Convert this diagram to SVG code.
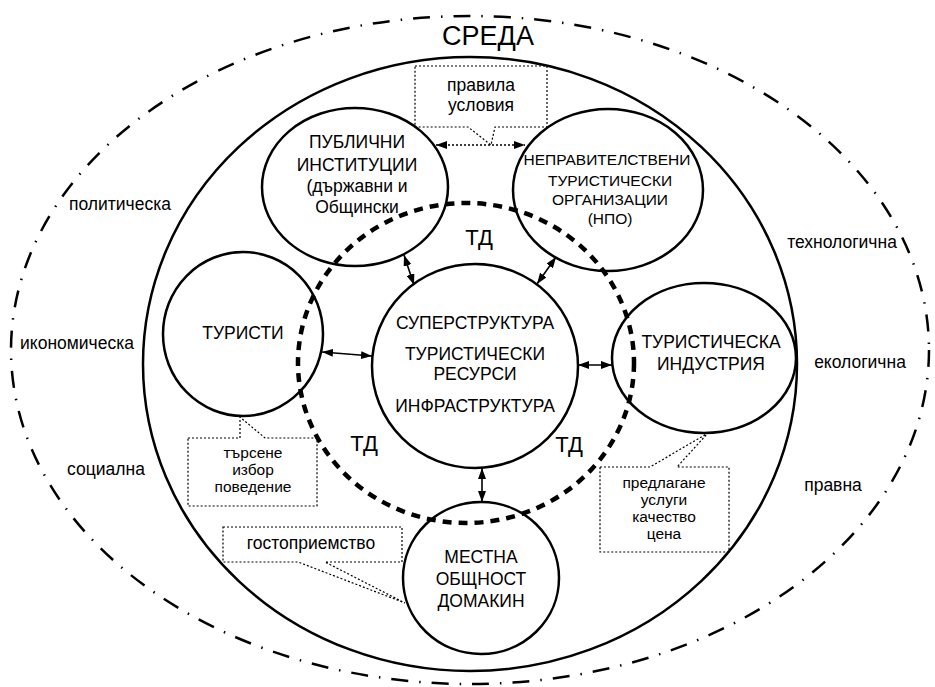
<svg xmlns="http://www.w3.org/2000/svg" width="935" height="687" viewBox="0 0 935 687">
<style>
text{font-family:"Liberation Sans",Arial,sans-serif;fill:#000;text-anchor:middle}
.t{font-size:17.5px}
.s{font-size:15.5px}
.n{font-size:15.5px}
.td{font-size:22px}
.node{fill:none;stroke:#000;stroke-width:2.5}
.env{fill:none;stroke:#000;stroke-width:2.5;stroke-dasharray:17 11 1.5 11}
.ring{fill:none;stroke:#000;stroke-width:4.5;stroke-dasharray:9 7}
.call{fill:none;stroke:#000;stroke-width:1.2;stroke-dasharray:2 2}
.arr{stroke:#000;stroke-width:1.6;fill:none;marker-start:url(#ah);marker-end:url(#ah)}
.arrd{stroke:#000;stroke-width:1.4;fill:none;stroke-dasharray:2 2;marker-start:url(#ah);marker-end:url(#ah)}
</style>
<defs>
<marker id="ah" viewBox="0 0 11 8" refX="11" refY="4" markerWidth="11" markerHeight="8" markerUnits="userSpaceOnUse" orient="auto-start-reverse">
<path d="M0,0 L11,4 L0,8 z" fill="#000"/>
</marker>
</defs>
<rect width="935" height="687" fill="#fff"/>

<g id="environment">
<ellipse class="env" cx="470" cy="350" rx="459" ry="334"/>
<text x="488" y="45" style="font-size:27px">СРЕДА</text>
<text class="t" x="120" y="210">политическа</text>
<text class="t" x="77" y="349">икономическа</text>
<text class="t" x="106" y="475">социална</text>
<text class="t" x="842" y="248">технологична</text>
<text class="t" x="860" y="368">екологична</text>
<text class="t" x="833" y="491">правна</text>
</g>

<g id="destination">
<ellipse class="node" cx="470" cy="364" rx="327" ry="307"/>
</g>

<g id="td-ring">
<ellipse class="ring" cx="466" cy="363" rx="168" ry="160"/>
<text class="td" x="479" y="245">ТД</text>
<text class="td" x="364" y="451">ТД</text>
<text class="td" x="569" y="452">ТД</text>
</g>

<g id="core">
<ellipse class="node" cx="475" cy="366" rx="103" ry="102"/>
<text class="t" x="475" y="329">СУПЕРСТРУКТУРА</text>
<text class="t" x="475" y="360">ТУРИСТИЧЕСКИ</text>
<text class="t" x="475" y="380">РЕСУРСИ</text>
<text class="t" x="475" y="412">ИНФРАСТРУКТУРА</text>
</g>

<g id="public-institutions">
<ellipse class="node" cx="355" cy="187" rx="93" ry="79"/>
<text class="t" x="357" y="148">ПУБЛИЧНИ</text>
<text class="t" x="357" y="171">ИНСТИТУЦИИ</text>
<text class="t" x="357" y="192">(държавни и</text>
<text class="t" x="357" y="213">Общински</text>
</g>

<g id="ngo">
<ellipse class="node" cx="608" cy="190" rx="95" ry="81"/>
<text class="n" x="607" y="165">НЕПРАВИТЕЛСТВЕНИ</text>
<text class="n" x="610" y="186">ТУРИСТИЧЕСКИ</text>
<text class="n" x="610" y="205">ОРГАНИЗАЦИИ</text>
<text class="n" x="610" y="224">(НПО)</text>
</g>

<g id="tourists">
<ellipse class="node" cx="243" cy="334" rx="80" ry="82"/>
<text class="t" x="243" y="339">ТУРИСТИ</text>
</g>

<g id="industry">
<ellipse class="node" cx="704" cy="358" rx="92" ry="75"/>
<text class="t" x="711" y="348">ТУРИСТИЧЕСКА</text>
<text class="t" x="711" y="370">ИНДУСТРИЯ</text>
</g>

<g id="community">
<ellipse class="node" cx="481" cy="578" rx="78" ry="76"/>
<text class="t" x="481" y="563">МЕСТНА</text>
<text class="t" x="481" y="585">ОБЩНОСТ</text>
<text class="t" x="481" y="607">ДОМАКИН</text>
</g>

<g id="callout-rules">
<path class="call" d="M415,66 H547 V127 H495 L491,145 L468,127 H415 Z"/>
<text class="t" x="481" y="91">правила</text>
<text class="t" x="481" y="111">условия</text>
</g>

<g id="callout-demand">
<path class="call" d="M188,438 H240 V417 L265,438 H317 V506 H188 Z"/>
<text class="s" x="253" y="458">търсене</text>
<text class="s" x="253" y="475">избор</text>
<text class="s" x="253" y="492">поведение</text>
</g>

<g id="callout-supply">
<path class="call" d="M600,467 H650 L708,433 L677,467 H729 V552 H600 Z"/>
<text class="s" x="664" y="488">предлагане</text>
<text class="s" x="664" y="505">услуги</text>
<text class="s" x="664" y="522">качество</text>
<text class="s" x="664" y="539">цена</text>
</g>

<g id="callout-hospitality">
<path class="call" d="M223,527 H402 V562 H325 L405,603 L298,562 H223 Z"/>
<text class="t" x="311" y="549">гостоприемство</text>
</g>

<g id="connectors">
<line class="arrd" x1="436" y1="145" x2="525" y2="145"/>
<line class="arr" x1="404" y1="255" x2="414" y2="285"/>
<line class="arr" x1="556" y1="257" x2="537" y2="284"/>
<line class="arr" x1="322" y1="352" x2="372" y2="356"/>
<line class="arr" x1="578" y1="365" x2="612" y2="365"/>
<line class="arr" x1="482" y1="468" x2="482" y2="502"/>
</g>
</svg>
